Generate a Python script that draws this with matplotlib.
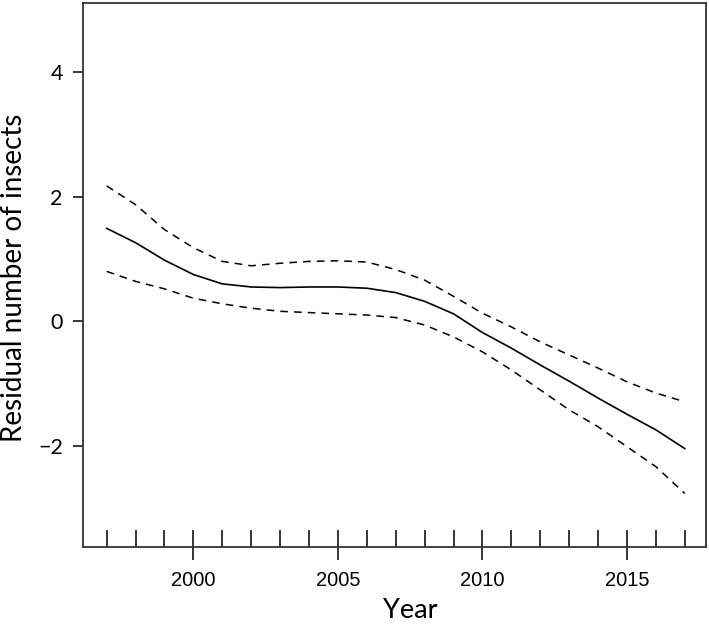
"""
GAM smooth of residual insect numbers by year, with confidence band.
"""

import matplotlib
matplotlib.use("Agg")
import matplotlib.pyplot as plt

years = list(range(1997, 2018))

fit = [1.49, 1.26, 0.98, 0.75, 0.60, 0.55, 0.54, 0.55, 0.55, 0.53, 0.46,
       0.32, 0.12, -0.18, -0.43, -0.70, -0.96, -1.23, -1.49, -1.74, -2.04]
upper = [2.17, 1.87, 1.47, 1.18, 0.96, 0.89, 0.93, 0.96, 0.97, 0.95, 0.83,
         0.66, 0.40, 0.13, -0.09, -0.33, -0.54, -0.75, -0.97, -1.15, -1.29]
lower = [0.80, 0.64, 0.52, 0.37, 0.28, 0.21, 0.16, 0.14, 0.12, 0.10, 0.06,
         -0.06, -0.25, -0.49, -0.78, -1.10, -1.42, -1.69, -2.01, -2.33, -2.76]

rug = years  # one observation-year per tick
x_ticks = [2000, 2005, 2010, 2015]
y_ticks = [-2, 0, 2, 4]

LABEL_FONT = ["Lato", "DejaVu Sans"]


def main():
    fig = plt.figure(figsize=(7.09, 6.26), dpi=100)
    ax = fig.add_axes([0.117, 0.126, 0.879, 0.869])

    ax.plot(years, fit, color="black", lw=1.2)
    ax.plot(years, upper, color="black", lw=1.1, dashes=(5, 4))
    ax.plot(years, lower, color="black", lw=1.1, dashes=(5, 4))

    # rug along the bottom
    ax.vlines(rug, 0, 0.032, transform=ax.get_xaxis_transform(),
              color="black", lw=1.1)

    ax.set_xlim(1996.18, 2017.74)
    ax.set_ylim(-3.62, 5.10)

    ax.set_xticks(x_ticks)
    ax.set_yticks(y_ticks)
    ax.set_xticklabels([str(t) for t in x_ticks],
                       family="Liberation Sans", fontsize=14.5)
    ax.set_yticklabels([f"\u2212{abs(t)}" if t < 0 else str(t) for t in y_ticks],
                       family=LABEL_FONT, fontsize=15.5)
    ax.tick_params(axis="x", direction="out", length=9.5, width=1.1, pad=8)
    ax.tick_params(axis="y", direction="out", length=7.5, width=1.1, pad=7)

    for s in ax.spines.values():
        s.set_linewidth(1.3)
        s.set_color("#333333")

    ax.set_xlabel("Year", family=LABEL_FONT, fontsize=19.5)
    ax.set_ylabel("Residual number of insects", family=LABEL_FONT, fontsize=20)
    ax.xaxis.set_label_coords(0.525, -0.094)
    ax.yaxis.set_label_coords(-0.09, 0.495)

    fig.savefig("out.png", dpi=100)


if __name__ == "__main__":
    main()
